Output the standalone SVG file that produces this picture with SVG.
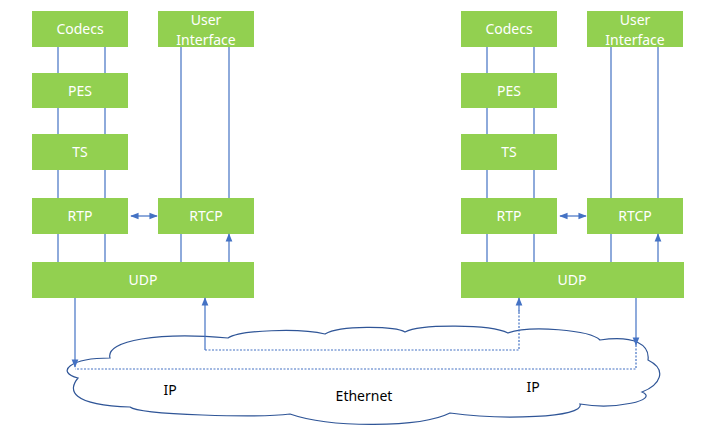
<svg xmlns="http://www.w3.org/2000/svg" width="723" height="432" viewBox="0 0 723 432">
<style>
.b{fill:#92d050}
.t{font-family:"Microsoft YaHei","Noto Sans","Liberation Sans",sans-serif;font-size:14px;fill:#fff;text-anchor:middle}
.k{font-family:"Noto Sans","Liberation Sans",sans-serif;font-size:14px;fill:#000;text-anchor:middle}
.l{stroke:#4472c4;stroke-width:1.2;fill:none}
.d{stroke:#4472c4;stroke-width:1.2;fill:none;stroke-dasharray:2 1.5}
</style>
<defs><marker id="a" viewBox="0 0 10 10" refX="9" refY="5" markerWidth="7" markerHeight="7" orient="auto-start-reverse"><path d="M0,1L10,5L0,9z" fill="#4472c4"/></marker></defs>
<rect width="723" height="432" fill="#fff"/>
<g id="cloud"><path d="M78,378 C55,372 70,358 110,358 C105,340 160,332 228,338 C240,330 300,328 325,334 C340,325 395,326 405,332 C420,324 490,324 508,333 C530,325 590,330 600,340 C635,335 650,345 648,360 C668,370 660,385 642,392 C660,400 615,410 580,404 C585,418 500,420 450,413 C420,428 330,428 290,414 C260,418 140,415 130,407 C70,405 68,390 78,378 Z" fill="#fff" stroke="#2f5597" stroke-width="1.2"/>
<text x="170" y="395" class="k">IP</text><text x="364" y="401" class="k">Ethernet</text><text x="533" y="392" class="k">IP</text></g>
<g id="left">
<g id="codecs1"><rect class="b" x="32" y="11" width="96" height="36"/><text class="t" x="80" y="34">Codecs</text></g>
<g id="ui1"><rect class="b" x="158" y="11" width="96" height="36"/><text class="t" x="206" y="25">User</text><text class="t" x="206" y="45">Interface</text></g>
<g id="pes1"><rect class="b" x="32" y="73" width="96" height="35"/><text class="t" x="80" y="96">PES</text></g>
<g id="ts1"><rect class="b" x="32" y="134" width="96" height="36"/><text class="t" x="80" y="157">TS</text></g>
<g id="rtp1"><rect class="b" x="32" y="198" width="96" height="36"/><text class="t" x="80" y="221">RTP</text></g>
<g id="rtcp1"><rect class="b" x="158" y="198" width="96" height="36"/><text class="t" x="206" y="221">RTCP</text></g>
<g id="udp1"><rect class="b" x="32" y="262" width="222" height="36"/><text class="t" x="143" y="285">UDP</text></g>
</g>
<g id="right">
<g id="codecs2"><rect class="b" x="461" y="11" width="96" height="36"/><text class="t" x="509" y="34">Codecs</text></g>
<g id="ui2"><rect class="b" x="587" y="11" width="96" height="36"/><text class="t" x="635" y="25">User</text><text class="t" x="635" y="45">Interface</text></g>
<g id="pes2"><rect class="b" x="461" y="73" width="96" height="35"/><text class="t" x="509" y="96">PES</text></g>
<g id="ts2"><rect class="b" x="461" y="134" width="96" height="36"/><text class="t" x="509" y="157">TS</text></g>
<g id="rtp2"><rect class="b" x="461" y="198" width="96" height="36"/><text class="t" x="509" y="221">RTP</text></g>
<g id="rtcp2"><rect class="b" x="587" y="198" width="96" height="36"/><text class="t" x="635" y="221">RTCP</text></g>
<g id="udp2"><rect class="b" x="461" y="262" width="223" height="36"/><text class="t" x="572" y="285">UDP</text></g>
</g>
<g id="connectors" marker-end="url(#a)">
<path class="l" d="M58,47V73M58,108V134M58,170V198M58,234V262M105,73V47M105,134V108M105,198V170M105,262V234M181,47V198M181,234V262M229,198V47M229,262V234"/>
<path class="l" d="M487,47V73M487,108V134M487,170V198M487,234V262M534,73V47M534,134V108M534,198V170M534,262V234M611,47V198M611,234V262M658,198V47M658,262V234"/>
<path class="l" d="M131,216H157" marker-start="url(#a)"/>
<path class="l" d="M560,216H586" marker-start="url(#a)"/>
<path class="l" d="M75,298V367"/>
<path class="l" d="M205,350V298" marker-end="url(#a)"/>
<path class="d" d="M205,350H519V310" marker-end="none"/>
<path class="l" d="M519,312V298"/>
<path class="l" d="M636,298V345"/>
<path class="d" d="M636,345V369H75" marker-end="none"/>
</g>
</svg>
